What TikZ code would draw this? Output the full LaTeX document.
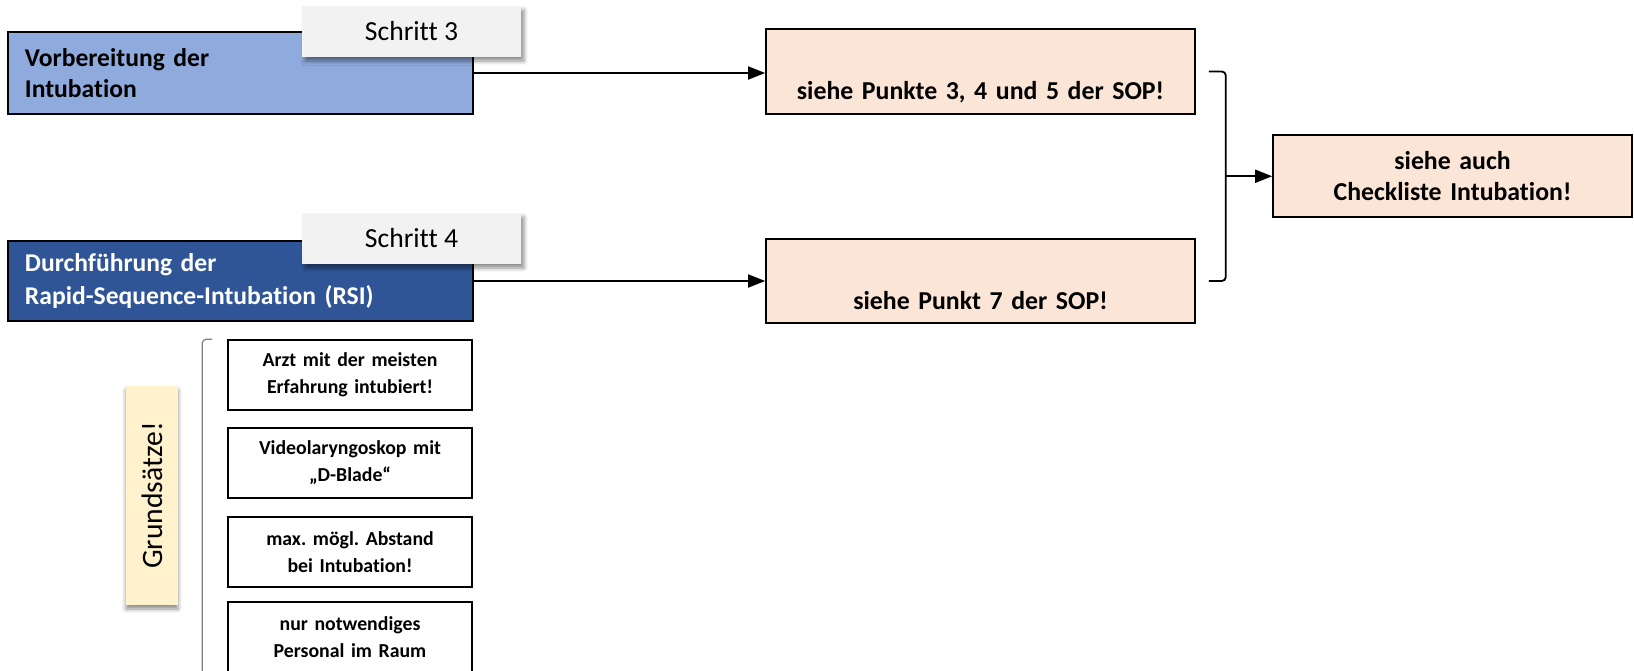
\documentclass[tikz,border=0pt]{standalone}
\usepackage{fontspec}
\setmainfont{Carlito}[Ligatures={NoCommon}]
\usepackage{graphicx}
\usetikzlibrary{arrows.meta,calc,shadows.blur}

\definecolor{prepblue}{HTML}{8FAADC}
\definecolor{rsiblue}{HTML}{2F5597}
\definecolor{peach}{HTML}{FBE5D6}
\definecolor{tagfill}{HTML}{F2F2F2}
\definecolor{cream}{HTML}{FFF2CC}

\begin{document}
\frenchspacing
\begin{tikzpicture}[x=0.5pt,y=-0.5pt,
  phase/.style={draw=black, line width=0.8pt, inner xsep=8.5pt, inner ysep=0pt,
    align=left, text width=215.5pt},
  steptag/.style={fill=tagfill, minimum width=109.5pt, minimum height=25.5pt,
    inner sep=0pt, font=\fontsize{13.8}{15}\selectfont,
    blur shadow={shadow xshift=1.5pt, shadow yshift=-2pt,
      shadow blur radius=2pt, shadow opacity=45}},
  peachbox/.style={draw=black, line width=0.8pt, fill=peach, inner sep=0pt,
    align=center, text width=214.5pt,
    font=\fontsize{12.9}{15}\selectfont\bfseries},
  rulebox/.style={draw=black, line width=0.8pt, fill=white, inner sep=0pt,
    align=center, text width=122pt, minimum height=35pt,
    font=\fontsize{9.9}{13.5}\selectfont\bfseries},
  notebox/.style={fill=cream, minimum width=26pt, minimum height=109.5pt,
    inner sep=0pt, font=\fontsize{14.8}{16}\selectfont,
    blur shadow={shadow xshift=0pt, shadow yshift=-2pt,
      shadow blur radius=2pt, shadow opacity=45}},
  conn/.style={line width=0.9pt, -{Triangle[length=8.5pt,width=6.5pt]}},
  bracketline/.style={line width=0.9pt, rounded corners=2pt},
  grouprule/.style={draw=gray, line width=0.6pt, rounded corners=2pt}
]
\useasboundingbox (0,0) rectangle (1634,670);

% the two phases
\node[phase, fill=prepblue, minimum height=41pt,
  font=\fontsize{12.8}{15.3}\selectfont\bfseries] (prep) at (240.5,73)
  {Vorbereitung der\\Intubation};
\node[phase, fill=rsiblue, minimum height=40pt, text=white,
  font=\fontsize{12.8}{16.5}\selectfont\bfseries] (rsi) at (240.5,281)
  {Durchführung der\\Rapid-Sequence-Intubation (RSI)};

% step tags
\node[steptag] (s3) at (411.5,31.5) {Schritt 3};
\node[steptag] (s4) at (411.5,238.5) {Schritt 4};

% references to the SOP
\node[peachbox, minimum height=42.5pt] (sop1) at (980.5,71.5)
  {\strut\\[4pt]siehe Punkte 3, 4 und 5 der SOP!};
\node[peachbox, minimum height=42pt] (sop2) at (980.5,281)
  {\strut\\[3pt]siehe Punkt 7 der SOP!};
\node[peachbox, text width=179.5pt, minimum height=41pt,
  font=\fontsize{12.9}{15.5}\selectfont\bfseries] (check) at (1452.5,176)
  {siehe auch\\Checkliste Intubation!};

% connectors
\draw[conn] (prep.east) -- (prep.east -| sop1.west);
\draw[conn] (rsi.east) -- (rsi.east -| sop2.west);

\coordinate (btop) at ($(sop1.east)+(13,0)$);
\coordinate (bbot) at ($(sop2.east)+(13,0)$);
\draw[bracketline] (btop) -- ++(17,0) -- ($(bbot)+(17,0)$) -- (bbot);
\coordinate (bmid) at ($(btop)!0.5!(bbot)+(17,0)$);
\draw[conn] (bmid) -- (bmid -| check.west);

% principles
\node[notebox] (grund) at (152,495.5) {\rotatebox{90}{Grundsätze!}};

\node[rulebox] (r1) at (350,375) {Arzt mit der meisten\\Erfahrung intubiert!};
\node[rulebox] (r2) at (350,463) {Videolaryngoskop mit\\„D-Blade“};
\node[rulebox] (r3) at (350,552) {max. mögl. Abstand\\bei Intubation!};
\node[rulebox] (r4) at (350,637) {nur notwendiges\\Personal im Raum};

\draw[grouprule] ($(r1.north west)+(-15,0)$) -- ++(-10,0) -- ++(0,360);
\end{tikzpicture}
\end{document}
